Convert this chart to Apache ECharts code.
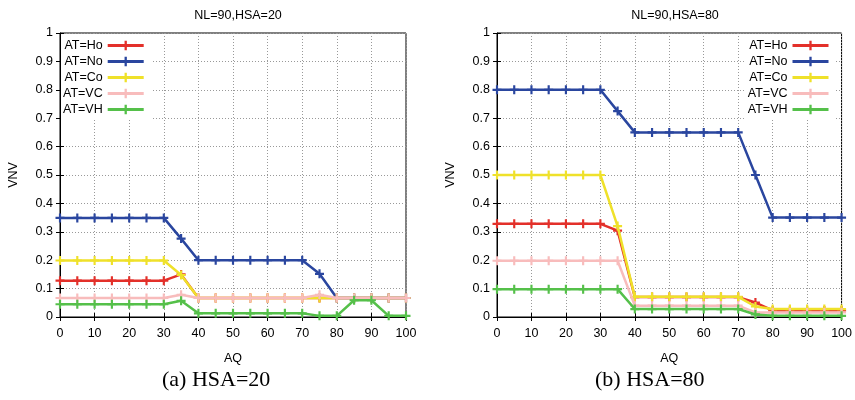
<!DOCTYPE html>
<html>
<head>
<meta charset="utf-8">
<script src="https://cdn.jsdelivr.net/npm/echarts@6/dist/echarts.min.js"></script>
<style>html,body{margin:0;padding:0;background:#fff}#c{width:855px;height:400px}</style>
</head>
<body>
<div id="c"></div>
<script>
// ---- data ----
const aq = [0,5,10,15,20,25,30,35,40,45,50,55,60,65,70,75,80,85,90,95,100];
const seriesNames = ['AT=Ho','AT=No','AT=Co','AT=VC','AT=VH'];
const yTicks = ['0','0.1','0.2','0.3','0.4','0.5','0.6','0.7','0.8','0.9','1'];
const titles = ['NL=90,HSA=20','NL=90,HSA=80'];
const captions = ['(a) HSA=20','(b) HSA=80'];
// HSA=20 (left)
const hsa20_Ho = [0.128,0.128,0.128,0.128,0.128,0.128,0.128,0.150,0.067,0.067,0.067,0.067,0.067,0.067,0.067,0.067,0.067,0.067,0.067,0.067,0.067];
const hsa20_No = [0.349,0.349,0.349,0.349,0.349,0.349,0.349,0.276,0.200,0.200,0.200,0.200,0.200,0.200,0.200,0.152,0.067,0.067,0.067,0.067,0.067];
const hsa20_Co = [0.199,0.199,0.199,0.199,0.199,0.199,0.199,0.148,0.067,0.067,0.067,0.067,0.067,0.067,0.067,0.067,0.067,0.067,0.067,0.067,0.067];
const hsa20_VC = [0.067,0.067,0.067,0.067,0.067,0.067,0.067,0.078,0.067,0.067,0.067,0.067,0.067,0.067,0.067,0.078,0.067,0.067,0.067,0.067,0.067];
const hsa20_VH = [0.045,0.045,0.045,0.045,0.045,0.045,0.045,0.057,0.013,0.013,0.013,0.013,0.013,0.013,0.013,0.004,0.004,0.059,0.059,0.004,0.004];
// HSA=80 (right)
const hsa80_Ho = [0.328,0.328,0.328,0.328,0.328,0.328,0.328,0.304,0.070,0.070,0.070,0.070,0.070,0.070,0.070,0.051,0.023,0.023,0.023,0.023,0.023];
const hsa80_No = [0.800,0.800,0.800,0.800,0.800,0.800,0.800,0.725,0.650,0.650,0.650,0.650,0.650,0.650,0.650,0.500,0.350,0.350,0.350,0.350,0.350];
const hsa80_Co = [0.500,0.500,0.500,0.500,0.500,0.500,0.500,0.320,0.071,0.071,0.071,0.071,0.071,0.071,0.071,0.037,0.028,0.028,0.028,0.028,0.028];
const hsa80_VC = [0.198,0.198,0.198,0.198,0.198,0.198,0.198,0.198,0.040,0.040,0.040,0.040,0.040,0.040,0.040,0.016,0.016,0.016,0.016,0.016,0.016];
const hsa80_VH = [0.098,0.098,0.098,0.098,0.098,0.098,0.098,0.098,0.028,0.028,0.028,0.028,0.028,0.028,0.028,0.009,0.004,0.004,0.004,0.004,0.004];

const colors = ['#e3302a','#2a469f','#efe12a','#f8bcbc','#55c04a'];
const plus = 'path://M3.8,0H6.2V10H3.8Z M0,3.8H10V6.2H0Z';
const font = 'Liberation Sans';

const panels = [
  [hsa20_Ho,hsa20_No,hsa20_Co,hsa20_VC,hsa20_VH],
  [hsa80_Ho,hsa80_No,hsa80_Co,hsa80_VC,hsa80_VH]
];

const grids = [
  {left:60, right:449, top:33, bottom:83},
  {left:497, right:13, top:33, bottom:83}
];

const xAxes = [], yAxes = [], series = [];
grids.forEach((g,i)=>{
  xAxes.push({
    type:'value', gridIndex:i, min:0, max:100, interval:10,
    name:'AQ', nameLocation:'middle', nameGap:35,
    nameTextStyle:{fontFamily:font, fontSize:12.5, color:'#000'},
    axisLine:{show:true, lineStyle:{color:'#000', width:1}},
    axisTick:{show:true, inside:true, length:4, lineStyle:{color:'#000'}},
    axisLabel:{fontFamily:font, fontSize:12.5, color:'#000', margin:10},
    splitLine:{show:true, lineStyle:{color:'#999', type:[1,2], width:1}}
  });
  xAxes.push({
    type:'value', gridIndex:i, min:0, max:100, interval:10, position:'top',
    axisLine:{show:false}, axisTick:{show:true, inside:true, length:4, lineStyle:{color:'#000'}},
    axisLabel:{show:false}, splitLine:{show:false}
  });
  yAxes.push({
    type:'value', gridIndex:i, min:0, max:1, interval:0.1,
    name:'VNV', nameLocation:'middle', nameGap:40,
    nameTextStyle:{fontFamily:font, fontSize:12.5, color:'#000'},
    axisLine:{show:true, lineStyle:{color:'#000', width:1}},
    axisTick:{show:true, inside:true, length:4, lineStyle:{color:'#000'}},
    axisLabel:{fontFamily:font, fontSize:12.5, color:'#000', margin:7,
      formatter:(v)=>yTicks[Math.round(v*10)]},
    splitLine:{show:true, lineStyle:{color:'#999', type:[1,2], width:1}}
  });
  yAxes.push({
    type:'value', gridIndex:i, min:0, max:1, interval:0.1, position:'right',
    axisLine:{show:false}, axisTick:{show:true, inside:true, length:4, lineStyle:{color:'#000'}},
    axisLabel:{show:false}, splitLine:{show:false}
  });
  panels[i].forEach((vals,k)=>{
    series.push({
      type:'line', name:seriesNames[k], xAxisIndex:i*2, yAxisIndex:i*2,
      data: aq.map((x,j)=>[x, vals[j]]),
      symbol:plus, symbolSize:9, showSymbol:true,
      lineStyle:{color:colors[k], width:2.5},
      itemStyle:{color:colors[k]},
      animation:false, z:2+k
    });
  });
});

const legendCommon = {
  orient:'vertical', align:'right', itemWidth:36, itemHeight:12, itemGap:3,
  backgroundColor:'#fff', padding:[5,6,4,2],
  lineStyle:{width:3},
  textStyle:{fontFamily:font, fontSize:12.5, color:'#000', width:38, align:'right'},
  data: seriesNames, selectedMode:false, z:10
};

const option = {
  animation:false,
  backgroundColor:'#fff',
  color:colors,
  title: titles.map((t,i)=>({
    text:t, left: i===0 ? 233 : 670, top:4, textAlign:'center',
    textStyle:{fontFamily:font, fontSize:12.5, fontWeight:'normal', color:'#000'}
  })),
  grid: grids.map(g=>Object.assign({show:true, borderColor:'#000', borderWidth:1, backgroundColor:'transparent'}, g)),
  xAxis:xAxes, yAxis:yAxes,
  legend:[
    Object.assign({left:61, top:34}, legendCommon),
    Object.assign({right:19, top:34}, legendCommon)
  ],
  graphic: captions.map((c,i)=>({
    type:'text', left: i===0 ? 162 : 595, top:369,
    style:{text:c, font:'22px "Liberation Serif"', fill:'#000'}
  })),
  series:series
};
const chart = echarts.init(document.getElementById('c'));
chart.setOption(option);
</script>
</body>
</html>
